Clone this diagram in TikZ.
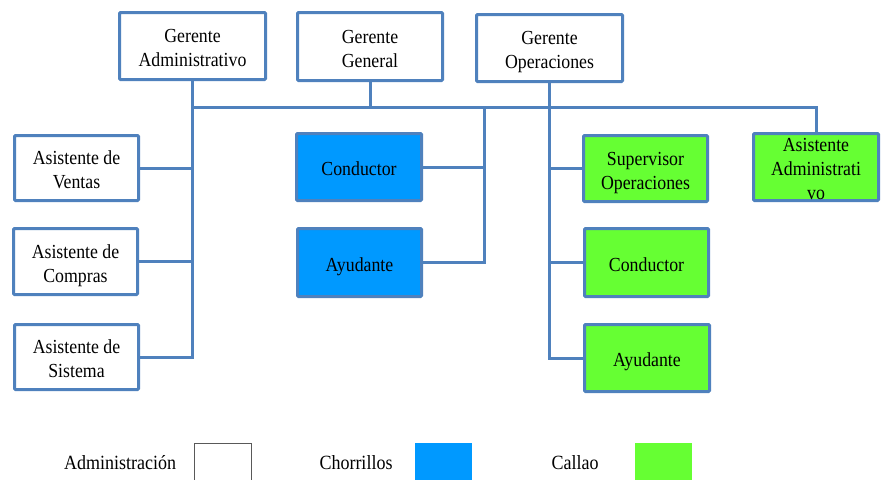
\documentclass[tikz,border=0pt]{standalone}
\usepackage{fontspec}
\setmainfont{Liberation Serif}
\usepackage{graphicx}
\definecolor{edge}{RGB}{79,129,189}
\definecolor{chorr}{RGB}{0,153,255}
\definecolor{callao}{RGB}{102,255,51}
% box label: stacked lines, slightly tall letters, zero height so the box keeps its size
\newcommand{\lbl}[1]{\smash{\raisebox{-0.5em}{\scalebox{1}[1.12]{\begin{tabular}{@{}c@{}}#1\end{tabular}}}}}
\begin{document}
\begin{tikzpicture}[x=1pt,y=-1pt,
  box/.style={draw=edge,line width=3pt,rounded corners=1pt,inner sep=0pt,
              font=\fontsize{17.8}{21.4}\selectfont},
  wire/.style={draw=edge,line width=3pt,line join=miter},
  legtext/.style={inner sep=0pt,font=\fontsize{18}{21}\selectfont},
  swatch/.style={inner sep=0pt,minimum width=57pt,minimum height=44pt}]
\useasboundingbox (0,0) rectangle (883,479);
\clip (0,0) rectangle (883,479);

% management
\node[box,fill=white,minimum width=146pt,minimum height=67pt] (ga) at (192.5,46) {\lbl{Gerente\\Administrativo}};
\node[box,fill=white,minimum width=145pt,minimum height=68pt] (gg) at (370,46.5) {\lbl{Gerente\\General}};
\node[box,fill=white,minimum width=146pt,minimum height=67pt] (go) at (549.5,48) {\lbl{Gerente\\Operaciones}};

% administration staff
\node[box,fill=white,minimum width=124pt,minimum height=65pt] (av) at (76.5,168) {\lbl{Asistente de\\Ventas}};
\node[box,fill=white,minimum width=124pt,minimum height=66pt] (ac) at (75.5,261.5) {\lbl{Asistente de\\Compras}};
\node[box,fill=white,minimum width=124pt,minimum height=65pt] (as) at (76.5,357) {\lbl{Asistente de\\Sistema}};

% Chorrillos
\node[box,fill=chorr,minimum width=125pt,minimum height=67pt] (cc) at (359,167) {\lbl{Conductor}};
\node[box,fill=chorr,minimum width=124pt,minimum height=68pt] (ca) at (359.5,262.5) {\lbl{Ayudante}};

% Callao
\node[box,fill=callao,minimum width=124pt,minimum height=66pt] (so) at (645.5,168.5) {\lbl{Supervisor\\Operaciones}};
\node[box,fill=callao,minimum width=124pt,minimum height=68pt] (kc) at (646.5,262.5) {\lbl{Conductor}};
\node[box,fill=callao,minimum width=125pt,minimum height=67pt] (ka) at (647,358) {\lbl{Ayudante}};
\node[box,fill=callao,minimum width=125pt,minimum height=67pt] (aa) at (816,167) {\lbl{Asistente\\Administrati\\vo}};

% connectors
\coordinate (bus) at (0,107);
\coordinate (chx) at (484,0);
\draw[wire] (ga.south) -- (ga.south |- as.east) -- (as.east);
\draw[wire] (av.east) -- (ga.south |- av.east);
\draw[wire] (ac.east) -- (ga.south |- ac.east);
\draw[wire] (ga.south |- bus) -| (aa.north);
\draw[wire] (gg.south) -- (gg.south |- bus);
\draw[wire] (chx |- bus) -- (chx |- ca.east) -- (ca.east);
\draw[wire] (cc.east) -- (chx |- cc.east);
\draw[wire] (go.south) -- (go.south |- ka.west) -- (ka.west);
\draw[wire] (so.west) -- (go.south |- so.west);
\draw[wire] (kc.west) -- (go.south |- kc.west);

% legend
\node[legtext] (l1) at (120,463) {\scalebox{1}[1.12]{Administración}};
\node[swatch,draw=black!65,line width=1pt,fill=white] (s1) at (223,465) {};
\node[legtext] (l2) at (356,463) {\scalebox{1}[1.12]{Chorrillos}};
\node[swatch,fill=chorr] (s2) at (443.5,465) {};
\node[legtext] (l3) at (575,463) {\scalebox{1}[1.12]{Callao}};
\node[swatch,fill=callao] (s3) at (663,465) {};
\end{tikzpicture}
\end{document}
